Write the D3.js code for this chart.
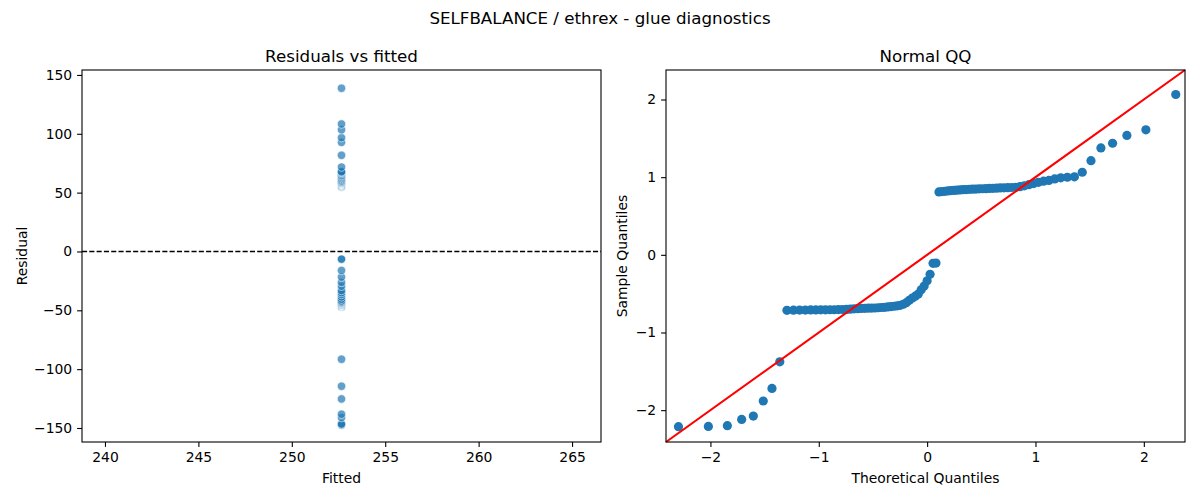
<!DOCTYPE html>
<html>
<head>
<meta charset="utf-8" />
<script src="https://cdn.jsdelivr.net/npm/d3@7"></script>
<style>
    body { margin: 0; background: #fff; }
    text { font-family: "DejaVu Sans", sans-serif; fill: #000; }
    .tick text { font-size: 13.9px; }
    .domain, .tick line { stroke: #000; stroke-width: 1.1px; }
</style>
</head>
<body>
<script>
    // fitted value is the same for every row (intercept-only model)
    var fittedValue = 252.66;

    // residuals, sorted
    var residuals = [
        -147.4, -147.2, -146.6, -141.2, -138.3, -125.3, -114.5, -91.6,
        -47.2, -47.1, -47.0, -47.0, -46.9, -46.9, -46.8, -46.8, -46.7, -46.7, -46.6, -46.5, -46.4, -46.2,
        -45.9, -45.8, -45.6, -45.5, -45.4, -45.3, -45.2, -45.0, -44.8, -44.6, -44.3, -44.0,
        -43.7, -43.3, -42.9, -42.0, -40.6, -38.6, -36.6, -35.0, -33.2, -29.5, -26.3, -21.8, -16.2, -6.7, -6.5,
        54.8, 55.1, 55.3, 55.6, 55.9, 56.1, 56.3, 56.5, 56.7, 56.8, 57.0, 57.1, 57.2, 57.4, 57.5, 57.6,
        57.8, 57.9, 58.0, 58.2, 58.3, 58.4, 58.6, 58.8,
        59.3, 60.0, 61.0, 62.0, 63.0, 64.0, 64.7, 66.0, 66.9, 67.4, 67.8, 71.7, 81.7, 92.7, 96.7, 103.4, 108.3, 138.7
    ];

    var fittedTicks = [240, 245, 250, 255, 260, 265];
    var residTicks = [-150, -100, -50, 0, 50, 100, 150];
    var qqTicks = [-2, -1, 0, 1, 2];

    var title = "SELFBALANCE / ethrex - glue diagnostics";

    var width = 1200,
        height = 500;

    var svg = d3.select("body").append("svg")
        .attr("width", width)
        .attr("height", height);

    var minus = function (d) { return String(d).replace("-", "\u2212"); };

    svg.append("text")
        .attr("x", width / 2)
        .attr("y", 24)
        .attr("text-anchor", "middle")
        .style("font-size", "16.7px")
        .text(title);

    // inverse normal cdf (Acklam)
    function normInv(p) {
        var a = [-3.969683028665376e+01, 2.209460984245205e+02, -2.759285104469687e+02, 1.383577518672690e+02, -3.066479806614716e+01, 2.506628277459239e+00],
            b = [-5.447609879822406e+01, 1.615858368580409e+02, -1.556989798598866e+02, 6.680131188771972e+01, -1.328068155288572e+01],
            c = [-7.784894002430293e-03, -3.223964580411365e-01, -2.400758277161838e+00, -2.549732539343734e+00, 4.374664141464968e+00, 2.938163982698783e+00],
            d = [7.784695709041462e-03, 3.224671290700398e-01, 2.445134137142996e+00, 3.754408661907416e+00];
        var q, r, pl = 0.02425;
        if (p < pl) {
            q = Math.sqrt(-2 * Math.log(p));
            return (((((c[0] * q + c[1]) * q + c[2]) * q + c[3]) * q + c[4]) * q + c[5]) /
                ((((d[0] * q + d[1]) * q + d[2]) * q + d[3]) * q + 1);
        }
        if (p > 1 - pl) {
            q = Math.sqrt(-2 * Math.log(1 - p));
            return -(((((c[0] * q + c[1]) * q + c[2]) * q + c[3]) * q + c[4]) * q + c[5]) /
                ((((d[0] * q + d[1]) * q + d[2]) * q + d[3]) * q + 1);
        }
        q = p - 0.5;
        r = q * q;
        return (((((a[0] * r + a[1]) * r + a[2]) * r + a[3]) * r + a[4]) * r + a[5]) * q /
            (((((b[0] * r + b[1]) * r + b[2]) * r + b[3]) * r + b[4]) * r + 1);
    }

    function drawAxes(g, x, y, xt, yt, w, h) {
        g.append("g")
            .attr("transform", "translate(0," + h + ")")
            .call(d3.axisBottom(x).tickValues(xt).tickSize(4.9).tickPadding(4.9).tickFormat(minus));
        g.append("g")
            .call(d3.axisLeft(y).tickValues(yt).tickSize(4.9).tickPadding(4.9).tickFormat(minus));
        g.selectAll(".domain").remove();
        g.append("rect")
            .attr("width", w).attr("height", h)
            .attr("fill", "none").attr("stroke", "#000").attr("stroke-width", 1.1);
    }

    function labels(g, w, h, t, xl, yl, ylx) {
        g.append("text").attr("x", w / 2).attr("y", -8)
            .attr("text-anchor", "middle").style("font-size", "16.7px").text(t);
        g.append("text").attr("x", w / 2).attr("y", h + 41)
            .attr("text-anchor", "middle").style("font-size", "13.9px").text(xl);
        g.append("text")
            .attr("transform", "translate(" + ylx + "," + (h / 2) + ") rotate(-90)")
            .attr("text-anchor", "middle").style("font-size", "13.9px").text(yl);
    }

    var plotTop = 70, ph = 372, pw = 519;

    // ---- residuals vs fitted
    var g1 = svg.append("g").attr("transform", "translate(82," + plotTop + ")");
    var x1 = d3.scaleLinear().domain([238.77, 266.55]).range([0, pw]);
    var y1 = d3.scaleLinear().domain([-161.9, 154.2]).range([ph, 0]);

    g1.append("line")
        .attr("x1", 0).attr("x2", pw)
        .attr("y1", y1(0)).attr("y2", y1(0))
        .attr("stroke", "#000").attr("stroke-width", 1.4)
        .attr("stroke-dasharray", "5.1,2.2");

    g1.selectAll("circle")
        .data(residuals)
        .enter().append("circle")
        .attr("cx", x1(fittedValue))
        .attr("cy", function (d) { return y1(d); })
        .attr("r", 4.2)
        .attr("fill", "#1f77b4")
        .attr("fill-opacity", 0.7)
        .attr("stroke", "#fff")
        .attr("stroke-width", 0.8)
        .attr("stroke-opacity", 0.7);

    drawAxes(g1, x1, y1, fittedTicks, residTicks, pw, ph);
    labels(g1, pw, ph, "Residuals vs fitted", "Fitted", "Residual", -55);

    // ---- normal QQ
    var n = residuals.length;
    var mean = d3.mean(residuals);
    var sd = Math.sqrt(d3.mean(residuals, function (d) { return (d - mean) * (d - mean); }));
    var qq = residuals.slice().sort(d3.ascending).map(function (d, i) {
        return { t: normInv((i + 1) / (n + 1)), s: (d - mean) / sd };
    });

    var lim = [-2.41, 2.38];
    var g2 = svg.append("g").attr("transform", "translate(666," + plotTop + ")");
    var x2 = d3.scaleLinear().domain(lim).range([0, pw]);
    var y2 = d3.scaleLinear().domain(lim).range([ph, 0]);

    g2.selectAll("circle")
        .data(qq)
        .enter().append("circle")
        .attr("cx", function (d) { return x2(d.t); })
        .attr("cy", function (d) { return y2(d.s); })
        .attr("r", 4.6)
        .attr("fill", "#1f77b4");

    g2.append("line")
        .attr("x1", x2(lim[0])).attr("y1", y2(lim[0]))
        .attr("x2", x2(lim[1])).attr("y2", y2(lim[1]))
        .attr("stroke", "#ff0000").attr("stroke-width", 2.1);

    drawAxes(g2, x2, y2, qqTicks, qqTicks, pw, ph);
    labels(g2, pw, ph, "Normal QQ", "Theoretical Quantiles", "Sample Quantiles", -39);
</script>
</body>
</html>
